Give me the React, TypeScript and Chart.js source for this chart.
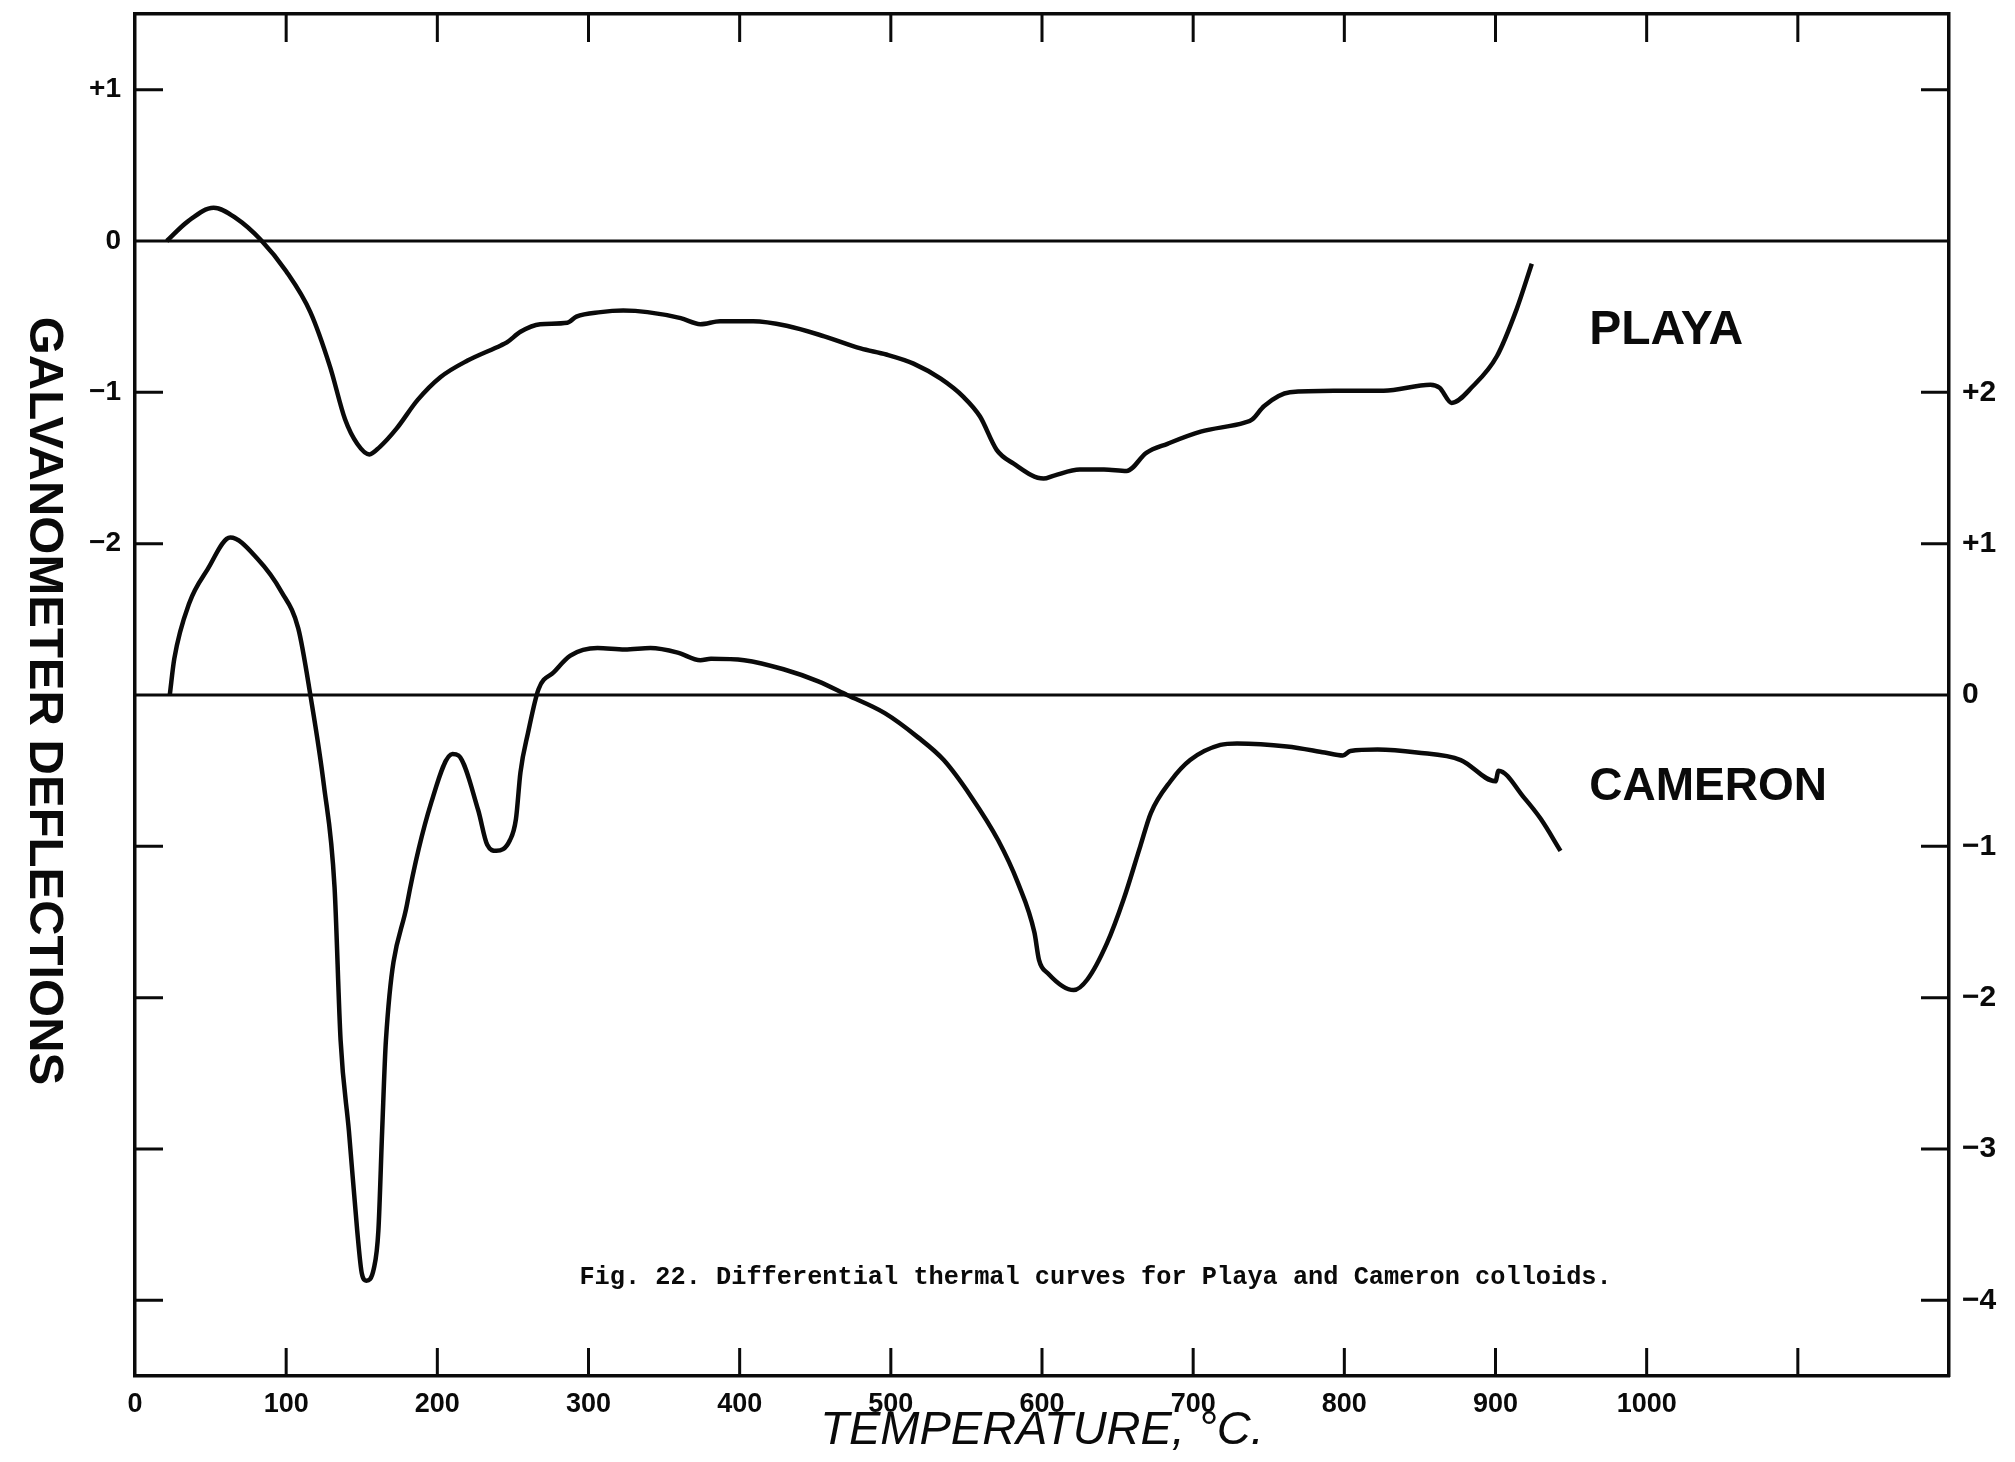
import React, { useEffect, useRef } from 'react';
import { Chart, registerables } from 'chart.js';

Chart.register(...registerables);

// Playa colloid: furnace temperature (°C) and galvanometer deflection (left scale)
const playaTemp = [
  21, 35, 52, 67, 83, 100, 116, 129, 139, 147, 155, 162, 173, 187, 202, 220, 242, 246, 255, 268,
  286, 292, 308, 323, 339, 361, 374, 387, 409, 431, 456, 480, 497, 515, 533, 548, 559, 570, 581, 601,
  608, 625, 641, 656, 669, 683, 705, 734, 739, 747, 764, 793, 826, 857, 863, 871, 885, 901, 914, 924,
];
const playaDeflection = [
  0, 0.13, 0.22, 0.15, 0.01, -0.2, -0.47, -0.83, -1.18, -1.34, -1.41, -1.36, -1.24, -1.05, -0.9, -0.79, -0.69, -0.67, -0.6, -0.55,
  -0.54, -0.5, -0.47, -0.46, -0.47, -0.51, -0.55, -0.53, -0.53, -0.56, -0.63, -0.71, -0.75, -0.81, -0.91, -1.03, -1.16, -1.38, -1.47, -1.57,
  -1.55, -1.51, -1.51, -1.52, -1.4, -1.34, -1.26, -1.2, -1.18, -1.09, -1.0, -0.99, -0.99, -0.95, -0.97, -1.07, -0.96, -0.76, -0.45, -0.15,
];

// Cameron colloid: furnace temperature (°C) and galvanometer deflection (right scale)
const cameronTemp = [
  23, 26, 36, 48, 63, 81, 97, 108, 116, 125, 132, 136, 141.5, 147, 150, 153, 158, 161, 163.5, 166,
  180, 196, 210, 214, 227, 233, 239, 248, 252, 255, 260, 267, 277, 288, 306, 324, 341, 359, 374, 381,
  403, 429, 452, 471, 496, 518, 535, 553, 571, 584, 595, 598, 604, 621, 630, 643, 654, 665, 672, 685,
  698, 718, 729, 762, 787, 799, 804, 822, 848, 877, 900, 902, 919, 930, 943,
];
const cameronDeflection = [
  0, 0.24, 0.61, 0.83, 1.04, 0.9, 0.68, 0.44, 0, -0.6, -1.27, -2.28, -2.88, -3.54, -3.82, -3.87, -3.79, -3.54, -2.88, -2.28,
  -1.38, -0.71, -0.39, -0.4, -0.76, -0.99, -1.03, -0.96, -0.82, -0.51, -0.25, 0.04, 0.15, 0.26, 0.31, 0.3, 0.31, 0.28, 0.23, 0.24,
  0.23, 0.17, 0.09, 0, -0.12, -0.28, -0.43, -0.67, -0.96, -1.24, -1.57, -1.75, -1.84, -1.95, -1.88, -1.64, -1.35, -1.0, -0.78, -0.57,
  -0.43, -0.33, -0.32, -0.34, -0.38, -0.4, -0.37, -0.36, -0.38, -0.43, -0.57, -0.5, -0.68, -0.82, -1.03,
];

// Axis ranges and tick labels
const tempRange = [0, 1200];
const leftRange = [-7.5, 1.5];
const rightRange = [-4.5, 4.5];
const tempLabelValues = [0, 100, 200, 300, 400, 500, 600, 700, 800, 900, 1000];
const frameTickTemps = [100, 200, 300, 400, 500, 600, 700, 800, 900, 1000, 1100];
const leftLabelValues = [1, 0, -1, -2];
const leftLabelTexts = ['+1', '0', '\u22121', '\u22122'];
const leftTickValues = [1, -1, -2, -4, -5, -6, -7];
const rightLabelValues = [2, 1, 0, -1, -2, -3, -4];
const rightLabelTexts = ['+2', '+1', '0', '\u22121', '\u22122', '\u22123', '\u22124'];
const rightTickValues = [4, 2, 1, -1, -2, -3, -4];

const xAxisTitle = 'TEMPERATURE, \u00B0C.';
const yAxisTitle = 'GALVANOMETER DEFLECTIONS';
const playaName = 'PLAYA';
const cameronName = 'CAMERON';
const caption = 'Fig. 22. Differential thermal curves for Playa and Cameron colloids.';

const WIDTH = 2015;
const HEIGHT = 1462;
const INK = '#0a0a0a';
const TICK_LEN = 28;
const SANS = '"Liberation Sans", Arial, sans-serif';
const MONO = '"Liberation Mono", "Courier New", monospace';

const toPoints = (xs: number[], ys: number[]) => xs.map((x, i) => ({ x, y: ys[i] }));

// Fix a scale's box size and drop the extra room Chart.js reserves for edge labels
const fixBox = (size: { width?: number; height?: number }) => (s: any) => {
  if (size.width !== undefined) s.width = size.width;
  if (size.height !== undefined) s.height = size.height;
  s.paddingTop = 0;
  s.paddingBottom = 0;
  s.paddingLeft = 0;
  s.paddingRight = 0;
};

const setTicks = (values: number[]) => (s: any) => {
  s.ticks = values.map((value) => ({ value }));
};

// Inward frame ticks plus the free-standing labels of the figure
const figureDecorations = {
  id: 'figureDecorations',
  afterDatasetsDraw(chart: any) {
    const { ctx, chartArea, scales } = chart;
    const xs = scales.x;
    const yl = scales.y;
    const yr = scales.y2;
    ctx.save();
    ctx.strokeStyle = INK;
    ctx.lineWidth = 3;
    ctx.beginPath();
    for (const t of frameTickTemps) {
      const px = xs.getPixelForValue(t);
      ctx.moveTo(px, chartArea.top);
      ctx.lineTo(px, chartArea.top + TICK_LEN);
      ctx.moveTo(px, chartArea.bottom);
      ctx.lineTo(px, chartArea.bottom - TICK_LEN);
    }
    for (const v of leftTickValues) {
      const py = yl.getPixelForValue(v);
      ctx.moveTo(chartArea.left, py);
      ctx.lineTo(chartArea.left + TICK_LEN, py);
    }
    for (const v of rightTickValues) {
      const py = yr.getPixelForValue(v);
      ctx.moveTo(chartArea.right, py);
      ctx.lineTo(chartArea.right - TICK_LEN, py);
    }
    ctx.stroke();

    ctx.fillStyle = INK;
    ctx.textBaseline = 'middle';
    ctx.textAlign = 'left';
    ctx.font = `bold 48px ${SANS}`;
    ctx.fillText(playaName, xs.getPixelForValue(962), yl.getPixelForValue(-0.59));
    ctx.font = `bold 46px ${SANS}`;
    ctx.fillText(cameronName, xs.getPixelForValue(962), yr.getPixelForValue(-0.61));

    ctx.font = `bold 25.3px ${MONO}`;
    ctx.fillText(caption, xs.getPixelForValue(294), yr.getPixelForValue(-3.85));

    ctx.save();
    ctx.translate(44, 701);
    ctx.rotate(Math.PI / 2);
    ctx.textAlign = 'center';
    ctx.font = `bold 49px ${SANS}`;
    ctx.fillText(yAxisTitle, 0, 0);
    ctx.restore();

    ctx.restore();
  },
};

export default function App() {
  const canvasRef = useRef<HTMLCanvasElement | null>(null);

  useEffect(() => {
    const canvas = canvasRef.current;
    if (!canvas) return;
    const line = {
      borderColor: INK,
      pointRadius: 0,
      fill: false,
    };
    const chart = new Chart(canvas, {
      type: 'line',
      data: {
        datasets: [
          {
            ...line,
            label: 'Playa',
            data: toPoints(playaTemp, playaDeflection),
            borderWidth: 4.5,
            cubicInterpolationMode: 'monotone',
            xAxisID: 'x',
            yAxisID: 'y',
          },
          {
            ...line,
            label: 'Cameron',
            data: toPoints(cameronTemp, cameronDeflection),
            borderWidth: 4.5,
            cubicInterpolationMode: 'monotone',
            xAxisID: 'x',
            yAxisID: 'y2',
          },
          {
            ...line,
            label: 'Playa zero',
            data: toPoints(tempRange, [0, 0]),
            borderWidth: 3,
            xAxisID: 'x',
            yAxisID: 'y',
          },
          {
            ...line,
            label: 'Cameron zero',
            data: toPoints(tempRange, [0, 0]),
            borderWidth: 3,
            xAxisID: 'x',
            yAxisID: 'y2',
          },
        ],
      },
      options: {
        animation: false,
        responsive: false,
        devicePixelRatio: 1,
        events: [],
        layout: { padding: 0 },
        plugins: {
          legend: { display: false },
          tooltip: { enabled: false },
          title: { display: false },
        },
        scales: {
          x: {
            type: 'linear',
            position: 'bottom',
            min: tempRange[0],
            max: tempRange[1],
            afterBuildTicks: setTicks(tempLabelValues),
            afterFit: fixBox({ height: 86 }),
            grid: { display: false, drawTicks: false },
            border: { display: true, color: INK, width: 3.5 },
            ticks: {
              autoSkip: false,
              maxRotation: 0,
              padding: 12,
              color: INK,
              font: { family: SANS, size: 27, weight: 'bold' },
              callback: (v: any) => String(v),
            },
            title: {
              display: true,
              text: xAxisTitle,
              color: INK,
              font: { family: SANS, size: 47, style: 'italic' },
              padding: { top: 3, bottom: 3 },
            },
          },
          x2: {
            type: 'linear',
            position: 'top',
            min: tempRange[0],
            max: tempRange[1],
            afterFit: fixBox({ height: 14 }),
            grid: { display: false, drawTicks: false },
            border: { display: true, color: INK, width: 3.5 },
            ticks: { display: false },
          },
          y: {
            type: 'linear',
            position: 'left',
            min: leftRange[0],
            max: leftRange[1],
            afterBuildTicks: setTicks(leftLabelValues),
            afterFit: fixBox({ width: 135 }),
            grid: { display: false, drawTicks: false },
            border: { display: true, color: INK, width: 3.5 },
            ticks: {
              autoSkip: false,
              padding: 14,
              color: INK,
              font: { family: SANS, size: 28, weight: 'bold' },
              callback: (v: any) => {
                const i = leftLabelValues.indexOf(Number(v));
                return i >= 0 ? leftLabelTexts[i] : '';
              },
            },
          },
          y2: {
            type: 'linear',
            position: 'right',
            min: rightRange[0],
            max: rightRange[1],
            afterBuildTicks: setTicks(rightLabelValues),
            afterFit: fixBox({ width: 66 }),
            grid: { display: false, drawTicks: false },
            border: { display: true, color: INK, width: 3.5 },
            ticks: {
              autoSkip: false,
              padding: 13,
              color: INK,
              font: { family: SANS, size: 30, weight: 'bold' },
              callback: (v: any) => {
                const i = rightLabelValues.indexOf(Number(v));
                return i >= 0 ? rightLabelTexts[i] : '';
              },
            },
          },
        },
      } as any,
      plugins: [figureDecorations],
    });
    return () => chart.destroy();
  }, []);

  return (
    <div style={{ position: 'absolute', left: 0, top: 0, width: WIDTH, height: HEIGHT, background: '#fff' }}>
      <canvas ref={canvasRef} width={WIDTH} height={HEIGHT} style={{ width: WIDTH, height: HEIGHT, display: 'block' }} />
    </div>
  );
}
